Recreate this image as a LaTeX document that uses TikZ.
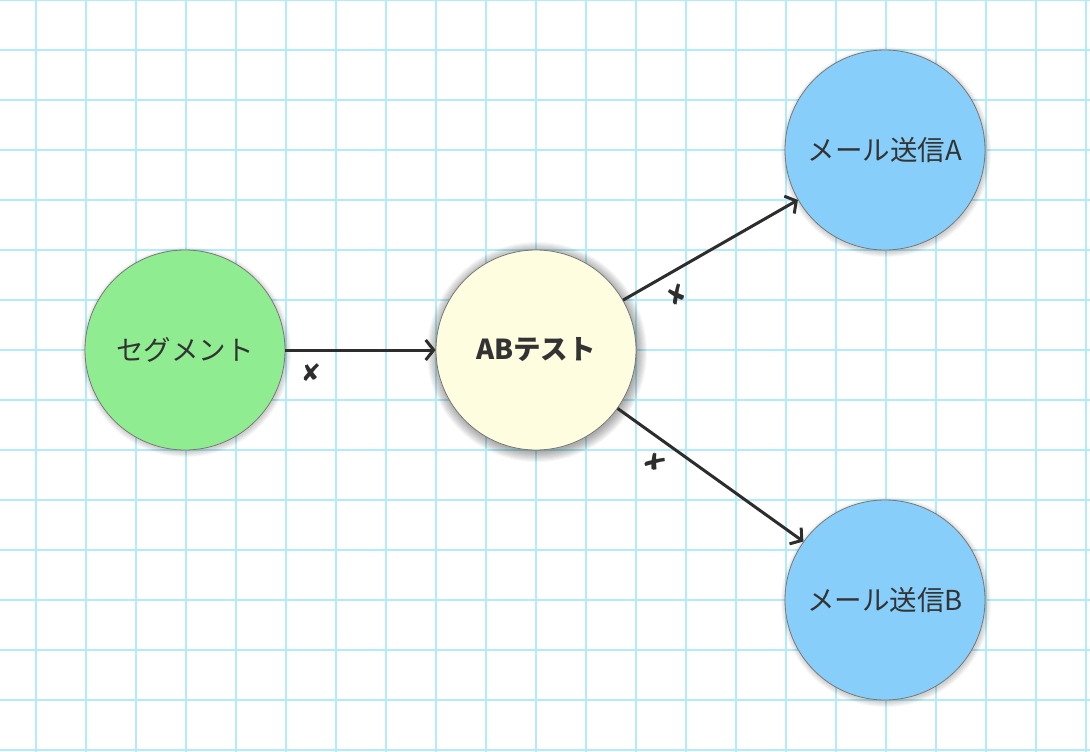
\documentclass[tikz,border=0pt]{standalone}
\usepackage{fontspec}
\setmainfont{Noto Sans CJK JP}
\newfontfamily\markfont{DejaVu Sans}
\usetikzlibrary{arrows.meta}
\definecolor{gridc}{RGB}{178,236,250}
\definecolor{ink}{RGB}{45,45,45}
\definecolor{txt}{RGB}{51,51,51}
\definecolor{segfill}{RGB}{144,236,144}
\definecolor{abfill}{RGB}{255,253,224}
\definecolor{mailfill}{RGB}{135,206,250}
\definecolor{rim}{RGB}{120,120,120}
\begin{document}
\begin{tikzpicture}[x=1pt,y=1pt,
  bubble/.style={circle, draw=rim, line width=0.8, minimum size=200, inner sep=0,
    text=txt, font=\fontsize{27.5}{32}\selectfont},
  link/.style={draw=ink, line width=3, -{Straight Barb[length=8,width=20,line width=3]}},
  xmark/.style={sloped, below=12, inner sep=0, text=ink,
    font=\markfont\fontsize{24}{24}\selectfont\bfseries}]
\useasboundingbox (0,0) rectangle (1090,-752);
\fill[white] (0,0) rectangle (1090,-752);
% grid
\foreach \gx in {36,86,...,1086} \draw[gridc, line width=2.2] (\gx,0) -- (\gx,-752);
\foreach \gy in {0,50,...,750} \draw[gridc, line width=2.2] (0,-\gy) -- (1090,-\gy);
% soft shadows
\foreach \k in {1,...,6} {
  \fill[black, opacity=0.03] (186,-352) circle ({99+\k});
  \fill[black, opacity=0.03] (886,-152) circle ({99+\k});
  \fill[black, opacity=0.03] (886,-602) circle ({99+\k});
}
\foreach \k in {1,...,10} {
  \fill[black, opacity=0.035] (537,-352) circle ({99+\k*1.1});
}
% nodes
\node[bubble, fill=segfill] (seg) at (185,-350) {セグメント};
\node[bubble, fill=abfill, font=\fontsize{27.5}{32}\selectfont\bfseries] (ab) at (536,-350) {ABテスト};
\node[bubble, fill=mailfill] (ma) at (885,-150) {メール送信A};
\node[bubble, fill=mailfill] (mb) at (885,-600) {メール送信B};
% connectors
\draw[link] (seg) -- node[xmark, pos=0.17] {✘} (ab);
\draw[link] (ab) -- node[xmark, pos=0.245] {✘} (ma);
\draw[link] (ab) -- node[xmark, pos=0.27] {✘} (mb);
\end{tikzpicture}
\end{document}
